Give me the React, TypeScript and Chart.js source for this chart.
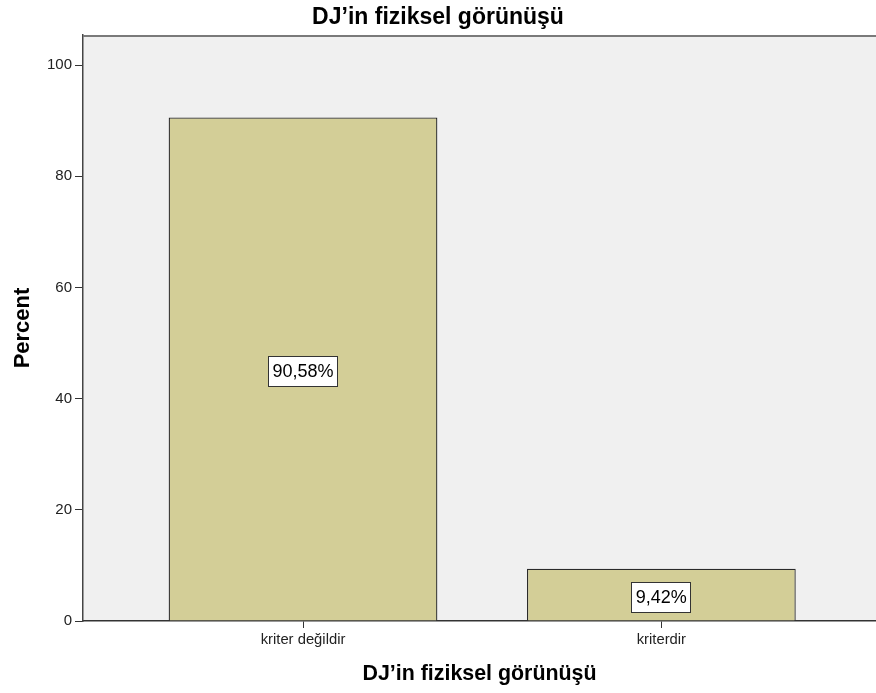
import React, { useEffect, useRef } from "react";
import { Chart, registerables } from "chart.js";

Chart.register(...registerables);

const chartTitle = "DJ\u2019in fiziksel görünüşü";
const xAxisTitle = "DJ\u2019in fiziksel görünüşü";
const yAxisTitle = "Percent";
const categories = ["kriter değildir", "kriterdir"];
const percents = [90.58, 9.42];
const yTickValues = [0, 20, 40, 60, 80, 100];

const FONT = "'Liberation Sans', Arial, sans-serif";

const framePlugin = {
  id: "frame",
  beforeDraw(chart: any) {
    const { ctx, chartArea } = chart;
    ctx.save();
    ctx.fillStyle = "#f0f0f0";
    ctx.fillRect(chartArea.left, chartArea.top, chartArea.right - chartArea.left, chartArea.bottom - chartArea.top);
    ctx.restore();
  },
  afterDraw(chart: any) {
    const { ctx, chartArea } = chart;
    ctx.save();
    ctx.strokeStyle = "#7a7a7a";
    ctx.lineWidth = 2;
    ctx.beginPath();
    ctx.moveTo(chartArea.left, chartArea.top + 1);
    ctx.lineTo(chartArea.right, chartArea.top + 1);
    ctx.stroke();
    ctx.restore();
  },
};

const labelPlugin = {
  id: "barLabels",
  afterDatasetsDraw(chart: any) {
    const { ctx } = chart;
    const meta = chart.getDatasetMeta(0);
    ctx.save();
    ctx.font = `18px ${FONT}`;
    ctx.textAlign = "center";
    ctx.textBaseline = "middle";
    meta.data.forEach((bar: any, i: number) => {
      const { x, y, base } = bar.getProps(["x", "y", "base"], true);
      const text = percents[i].toFixed(2).replace(".", ",") + "%";
      const cy = Math.round((y + base) / 2 + 2);
      const w = Math.round(ctx.measureText(text).width + 9);
      const h = 31;
      const left = Math.round(x - w / 2);
      const top = Math.round(cy - h / 2);
      ctx.fillStyle = "#ffffff";
      ctx.fillRect(left, top, w, h);
      ctx.strokeStyle = "#333333";
      ctx.lineWidth = 1;
      ctx.strokeRect(left + 0.5, top + 0.5, w - 1, h - 1);
      ctx.fillStyle = "#000000";
      ctx.fillText(text, x, cy + 1);
    });
    ctx.restore();
  },
};

export default function App() {
  const ref = useRef<HTMLCanvasElement | null>(null);

  useEffect(() => {
    if (!ref.current) return;
    const chart = new Chart(ref.current, {
      type: "bar",
      data: {
        datasets: [
          {
            data: categories.map((_, i) => ({ x: i, y: percents[i] })),
            backgroundColor: "#d3ce97",
            borderColor: "#2a2a2a",
            borderWidth: 1.3,
            borderSkipped: "bottom",
            barPercentage: 0.75,
            categoryPercentage: 1,
          },
        ],
      },
      options: {
        animation: false,
        responsive: false,
        layout: { padding: 0 },
        plugins: {
          legend: { display: false },
          tooltip: { enabled: false },
          title: {
            display: true,
            text: chartTitle,
            color: "#000",
            font: { family: FONT, size: 23, weight: "bold" },
            padding: { top: 4, bottom: 3.4 },
          },
        },
        scales: {
          x: {
            type: "linear",
            offset: false,
            min: -0.614,
            max: 1.599,
            afterBuildTicks: (scale: any) => {
              scale.ticks = categories.map((_, i) => ({ value: i }));
            },
            afterFit: (scale: any) => {
              scale.height = 72;
            },
            ticks: {
              autoSkip: false,
              maxRotation: 0,
              padding: 3,
              color: "#222",
              font: { family: FONT, size: 14.8 },
              callback: (v: any) => categories[v] ?? "",
            },
            grid: {
              offset: false,
              drawOnChartArea: false,
              drawTicks: true,
              tickLength: 7,
              color: "#333",
            },
            border: { display: true, color: "#333", width: 1.5 },
            title: {
              display: true,
              text: xAxisTitle,
              color: "#000",
              font: { family: FONT, size: 21.4, weight: "bold" },
              padding: { top: 0, bottom: 6 },
            },
          },
          y: {
            type: "linear",
            min: 0,
            max: 105.4,
            afterBuildTicks: (scale: any) => {
              scale.ticks = yTickValues.map((v) => ({ value: v }));
            },
            afterFit: (scale: any) => {
              scale.width = 83;
            },
            ticks: {
              padding: 3,
              color: "#222",
              font: { family: FONT, size: 15 },
            },
            grid: {
              drawOnChartArea: false,
              drawTicks: true,
              tickLength: 8,
              color: "#333",
            },
            border: { display: true, color: "#444", width: 1.5 },
            title: {
              display: true,
              text: yAxisTitle,
              color: "#000",
              font: { family: FONT, size: 22, weight: "bold" },
              padding: { top: 10, bottom: 0 },
            },
          },
        },
      },
      plugins: [framePlugin, labelPlugin],
    } as any);
    return () => chart.destroy();
  }, []);

  return (
    <div style={{ position: "fixed", left: 0, top: 0, width: 876, height: 693, background: "#fff" }}>
      <canvas ref={ref} width={876} height={693} style={{ display: "block" }} />
    </div>
  );
}
